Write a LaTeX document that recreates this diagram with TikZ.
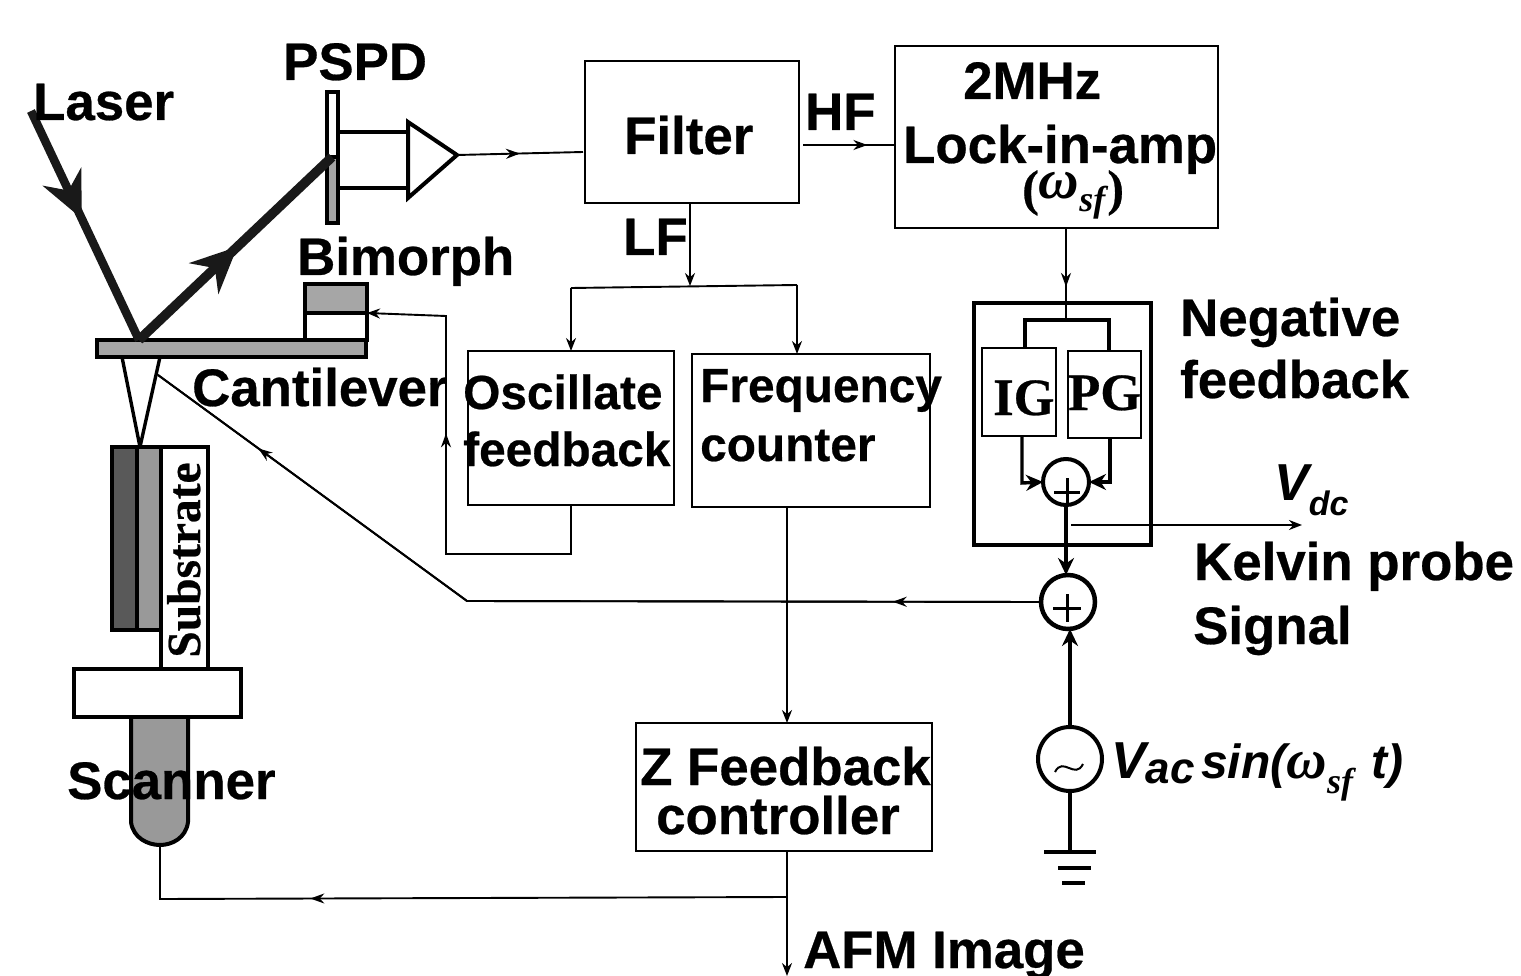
\documentclass[tikz,border=0pt]{standalone}
\usepackage{amssymb}
\usepackage{amsmath}
\usepackage{fontspec}
\setmainfont{Liberation Sans}[BoldFeatures={FakeBold=0.5}]
\newfontfamily\serifbold{Liberation Serif}[BoldFeatures={FakeBold=0.5}]
\usetikzlibrary{arrows.meta,decorations.markings}
\newcommand{\omegasf}[3]{{\serifbold\itshape\fontsize{#1}{#1}\selectfont ω\raisebox{#3}{\bfseries\fontsize{#2}{#2}\selectfont sf}}}
\tikzset{
  label52/.style={anchor=base west,inner sep=0pt,font=\bfseries\fontsize{52.8}{52.8}\selectfont},
  label48/.style={anchor=base west,inner sep=0pt,font=\bfseries\fontsize{47.8}{47.8}\selectfont},
  serif50/.style={anchor=base west,inner sep=0pt,font=\serifbold\bfseries\fontsize{52.5}{52.5}\selectfont},
  blockbox/.style={draw,line width=2.4pt,inner sep=0pt,outer sep=0pt,anchor=north west},
  sumnode/.style={draw,circle,line width=4pt,inner sep=0pt,outer sep=0pt,minimum size=#1},
  thinline/.style={line width=1.9pt},
  thickline/.style={line width=4pt},
  beam/.style={line width=9.5pt,color=black!90},
  tipend/.style={-{Stealth[length=13pt,width=10pt]}},
  bigtip/.style={-{Stealth[length=17pt,width=16pt]}},
  midtip/.style={postaction={decorate},decoration={markings,mark=at position #1 with {\arrow{Stealth[length=14pt,width=10pt]}}}},
  beamtip/.style={postaction={decorate},decoration={markings,mark=at position #1 with {\arrow{Stealth[length=46pt,width=42pt]}}}},
}
\begin{document}
\begin{tikzpicture}[x=1pt,y=-1pt]
  \useasboundingbox (0,0) rectangle (1521,976);
  % blocks
  \node[blockbox,minimum width=214pt,minimum height=142pt] (filter) at (585,61) {};
  \node[blockbox,minimum width=323pt,minimum height=182pt] (lockin) at (895,46) {};
  \node[blockbox,minimum width=206pt,minimum height=154pt] (oscfb) at (468,351) {};
  \node[blockbox,minimum width=238pt,minimum height=153pt] (freq) at (692,354) {};
  \node[blockbox,minimum width=296pt,minimum height=128pt] (zctrl) at (636,723) {};
  \node[blockbox,line width=4.5pt,minimum width=177pt,minimum height=242pt] (negfb) at (974,303) {};
  \node[blockbox,minimum width=74pt,minimum height=88pt] (ig) at (982,348) {};
  \node[blockbox,minimum width=73pt,minimum height=87pt] (pg) at (1068,351) {};
  \node[sumnode=46pt] (sumin) at (1066,482) {};
  \node[sumnode=54pt,line width=4.5pt] (sumout) at (1068,602) {};
  \node[sumnode=64pt] (source) at (1070,759) {};
  % pspd and amplifier
  \node[blockbox,line width=3.4pt,minimum width=11pt,minimum height=65pt] (pspdtop) at (327,92) {};
  \node[blockbox,line width=3.4pt,fill=black!35,minimum width=11pt,minimum height=66pt] (pspdlow) at (327,157) {};
  \draw[thickline,line join=miter] (408,122) -- (457,155) coordinate (ampout) -- (408,198) -- cycle;
  \draw[thickline] (pspdtop.east |- 0,132) -- (408,132);
  \draw[thickline] (pspdlow.east |- 0,188) -- (408,188);
  % cantilever and bimorph
  \node[blockbox,line width=4pt,minimum width=62pt,minimum height=56pt] (bimorph) at (305,284) {};
  \node[blockbox,line width=4pt,fill=black!35,minimum width=62pt,minimum height=29pt] (bimorphtop) at (305,284) {};
  \node[blockbox,line width=4pt,fill=black!35,minimum width=269pt,minimum height=17pt] (canti) at (97,340) {};
  \coordinate (tip) at (140,447);
  \draw[line width=3.4pt] (122,357) -- (tip) -- (160,357);
  % sample stack
  \node[blockbox,line width=4pt,fill=black!65,minimum width=25pt,minimum height=183pt] (backing) at (112,447) {};
  \node[blockbox,line width=4pt,fill=black!40,minimum width=24pt,minimum height=183pt] (sample) at (137,447) {};
  \node[blockbox,line width=4pt,minimum width=47pt,minimum height=222pt] (substrate) at (161,447) {};
  \node[anchor=base,inner sep=0pt,rotate=90,font=\serifbold\bfseries\fontsize{47.5}{47.5}\selectfont] (sublabel) at (200,560) {Substrate};
  \filldraw[fill=black!40,line width=4pt] (131,717) -- (131,822) .. controls (133,838) and (148,845) .. (160,845) coordinate (scanbase) .. controls (172,845) and (186,838) .. (188,822) -- (188,717);
  \node[blockbox,line width=4pt,fill=white,minimum width=167pt,minimum height=48pt] (plate) at (74,669) {};
  % beams
  \coordinate (laserend) at (31,111);
  \coordinate (spot) at (139,340);
  \coordinate (pspdhit) at (332,157);
  \draw[beam,line width=8.5pt,beamtip=0.47] (laserend) -- (spot);
  \draw[beam,beamtip=0.51] (spot) -- (pspdhit);
  % signal path
  \coordinate (filterin) at (583,152);
  \coordinate (hfout) at (803,145);
  \coordinate (lfjoin) at (690,286);
  \coordinate (lfleft) at (571,288);
  \coordinate (lfright) at (797,285);
  \coordinate (oscbase) at (571,505);
  \coordinate (bimfeed) at (367,313);
  \coordinate (cantitip) at (158,375);
  \coordinate (bend) at (467,601);
  \coordinate (zjoin) at (787,897);
  \coordinate (afmout) at (787,976);
  \coordinate (scancorner) at (160,899);
  \coordinate (vdcstart) at (1071,525);
  \coordinate (vdcend) at (1302,525);
  \draw[thinline,midtip=0.5] (ampout) -- (filterin);
  \draw[thinline,midtip=0.7] (hfout) -- (hfout -| lockin.west);
  \draw[thinline,tipend] (690,203) -- (lfjoin);
  \draw[thinline] (lfleft) -- (lfright);
  \draw[thinline,tipend] (lfleft) -- (lfleft |- oscfb.north);
  \draw[thinline,tipend] (lfright) -- (lfright |- freq.north);
  \draw[thinline,midtip=0.6,tipend] (oscbase) -- (571,554) -- (446,554) -- (446,316) -- (bimfeed);
  \draw[thinline,midtip=0.155] (sumout.west) -- (bend) -- (cantitip);
  \draw[thinline,midtip=0.87] (sumout.west) -- (bend) -- (cantitip);
  \draw[thinline,tipend] (787,507) -- (787,723);
  \draw[thinline,midtip=0.7] (zjoin) -- (scancorner) -- (scanbase);
  \draw[thinline] (787,851) -- (zjoin);
  \draw[thinline,tipend] (zjoin) -- (afmout);
  % negative feedback
  \draw[thinline,midtip=0.64] (1066,228) -- (1066,320);
  \draw[thickline] (1025,348) -- (1025,320) -- (1109,320) -- (1109,351);
  \draw[line width=3.4pt,bigtip] (1022,436) -- (1022,483) -- (sumin.west);
  \draw[line width=3.4pt,bigtip] (1110,438) -- (1110,482) -- (sumin.east);
  \draw[thickline,bigtip] (sumin.south) -- (sumin.south |- sumout.north);
  \draw[thinline,tipend] (vdcstart) -- (vdcend);
  \draw[line width=3pt] (1054,492) -- (1080,492) (1067,478) -- (1067,505);
  \draw[line width=3pt] (1053,608) -- (1081,608) (1067,594) -- (1067,622);
  \draw[thickline,bigtip] (source.north) -- (source.north |- sumout.south);
  \draw[line width=2pt] (1055,772) .. controls (1063,756) and (1075,780) .. (1083,764);
  % ground
  \coordinate (ground) at (1070,852);
  \draw[thickline] (source.south) -- (ground);
  \draw[line width=4.5pt] (1044,852) -- (1096,852) (1058,868) -- (1091,868) (1062,883) -- (1085,883);
  % labels
  \node[label52] (pspdlabel) at (283,80) {PSPD};
  \node[label52] (laserlabel) at (33,120) {Laser};
  \node[label52] (filterlabel) at (624,154) {Filter};
  \node[label52] (hflabel) at (805,130) {HF};
  \node[label52] (mhzlabel) at (963,99) {2MHz};
  \node[label52] (lockinlabel) at (903,163) {Lock-in-amp};
  \node[anchor=base west,inner sep=0pt,font=\serifbold\bfseries\fontsize{50}{50}\selectfont] (omegalabel) at (1022,205) {(\raisebox{6pt}{\omegasf{56}{36}{-13pt}}\hspace{2pt})};
  \node[label52] (lflabel) at (623,255) {LF};
  \node[label52] (bimorphlabel) at (297,275) {Bimorph};
  \node[label52] (cantilabel) at (192,406) {Cantilever};
  \node[label48] (osclabel) at (463,409) {Oscillate};
  \node[label48] (fblabel) at (463,466) {feedback};
  \node[label48] (freqlabel) at (700,402) {Frequency};
  \node[label48] (countlabel) at (700,461) {counter};
  \node[label52] (neglabel) at (1180,336) {Negative};
  \node[label52] (negfblabel) at (1180,398) {feedback};
  \node[serif50] (iglabel) at (993,415) {IG};
  \node[serif50] (pglabel) at (1068,410) {PG};
  \node[anchor=base west,inner sep=0pt,font=\bfseries\itshape\fontsize{52}{52}\selectfont] (vdclabel) at (1274,500) {V\raisebox{-0.3em}{\fontsize{34}{34}\selectfont dc}};
  \node[label52] (kelvinlabel) at (1194,580) {Kelvin probe};
  \node[label52] (signallabel) at (1193,644) {Signal};
  \node[label52] (scanlabel) at (67,799) {Scanner};
  \node[label52] (zlabel) at (640,785) {Z Feedback};
  \node[label52] (ctrllabel) at (656,834) {controller};
  \node[label52] (afmlabel) at (803,968) {AFM Image};
  \node[anchor=base west,inner sep=0pt,font=\bfseries\itshape\fontsize{52}{52}\selectfont] (vaclabel) at (1111,778) {V\raisebox{-5pt}{\fontsize{44}{44}\selectfont ac}};
  \node[anchor=base west,inner sep=0pt,font=\bfseries\itshape\fontsize{48}{48}\selectfont] (sinlabel) at (1201,778) {sin(\omegasf{56}{36}{-15pt}};
  \node[anchor=base west,inner sep=0pt,font=\bfseries\itshape\fontsize{48}{48}\selectfont] (tlabel) at (1371,778) {t)};
\end{tikzpicture}
\end{document}
